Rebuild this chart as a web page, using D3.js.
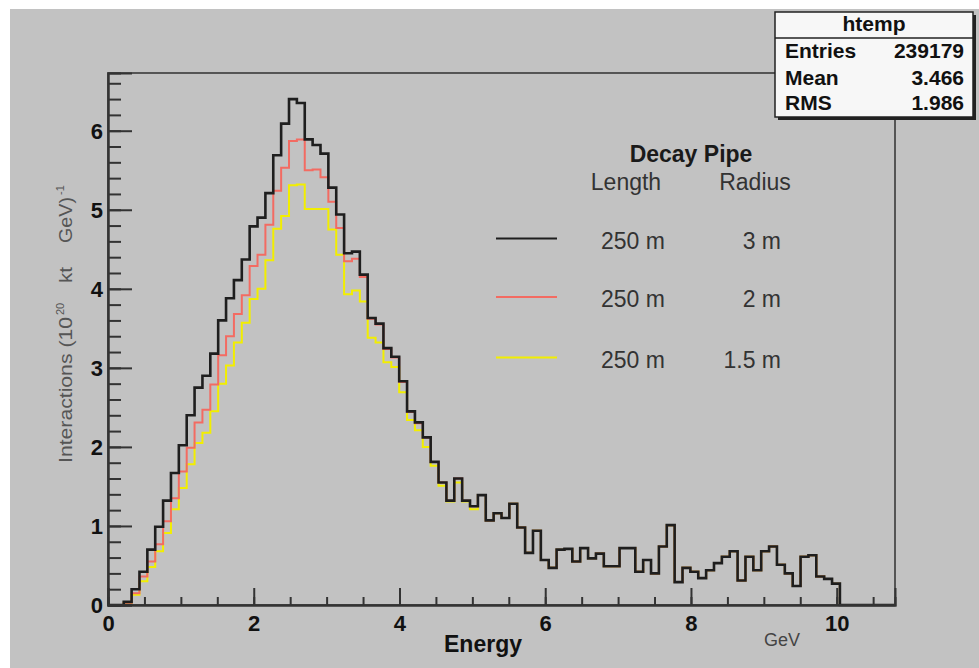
<!DOCTYPE html>
<html><head><meta charset="utf-8">
<script src="https://cdn.jsdelivr.net/npm/d3@7"></script>
<style>
html,body{margin:0;padding:0;background:#fff;}
svg{display:block;font-family:"Liberation Sans",Arial,sans-serif;}
</style></head>
<body><svg id="c" width="979" height="668"></svg>
<script>
// Histogram binning (100 bins, 0 .. 10.8 GeV)
const binCount = 100;
const xMin = 0, xMax = 10.8;
const yMax = 6.73;

// Series values per bin (10^20 kt GeV)^-1
const radius3m = [
 0,0,0.04,0.20,0.42,0.70,0.99,1.32,1.67,2.02,
 2.40,2.75,2.90,3.18,3.60,3.88,4.11,4.37,4.79,4.90,
 5.21,5.69,6.09,6.40,6.35,5.89,5.82,5.71,5.28,4.94,
 4.45,4.47,4.18,3.63,3.56,3.25,3.14,2.83,2.45,2.31,
 2.12,1.81,1.55,1.32,1.60,1.32,1.25,1.39,1.07,1.16,
 1.10,1.28,0.98,0.66,0.94,0.57,0.47,0.70,0.71,0.55,
 0.72,0.59,0.65,0.49,0.49,0.72,0.72,0.42,0.57,0.40,
 0.74,1.01,0.29,0.47,0.42,0.34,0.44,0.53,0.61,0.68,
 0.31,0.61,0.44,0.68,0.74,0.51,0.40,0.24,0.61,0.63,
 0.36,0.33,0.27,0,0,0,0,0,0,0];
const radius2m = [
 0,0,0.03,0.15,0.36,0.55,0.77,1.06,1.35,1.69,
 1.99,2.31,2.47,2.79,3.16,3.40,3.68,3.92,4.29,4.43,
 4.81,5.24,5.53,5.87,5.89,5.50,5.51,5.41,5.10,4.77,
 4.35,4.38,4.15,3.62,3.55,3.24,3.13,2.82,2.44,2.30,
 2.12,1.81,1.55,1.32,1.60,1.32,1.25,1.39,1.07,1.16,
 1.10,1.28,0.98,0.66,0.94,0.57,0.47,0.70,0.71,0.55,
 0.72,0.59,0.65,0.49,0.49,0.72,0.72,0.42,0.57,0.40,
 0.74,1.01,0.29,0.47,0.42,0.34,0.44,0.53,0.61,0.68,
 0.31,0.61,0.44,0.68,0.74,0.51,0.40,0.24,0.61,0.63,
 0.36,0.33,0.27,0,0,0,0,0,0,0];
const radius15m = [
 0,0,0.03,0.13,0.30,0.48,0.68,0.91,1.21,1.48,
 1.78,2.05,2.18,2.45,2.80,3.03,3.32,3.57,3.87,4.00,
 4.36,4.76,4.92,5.31,5.32,5.01,5.01,5.01,4.75,4.43,
 3.93,3.98,3.84,3.38,3.32,3.07,3.01,2.69,2.34,2.21,
 2.00,1.76,1.51,1.31,1.55,1.31,1.21,1.39,1.07,1.16,
 1.10,1.28,0.98,0.66,0.94,0.57,0.47,0.70,0.71,0.55,
 0.72,0.59,0.65,0.49,0.49,0.72,0.72,0.42,0.57,0.40,
 0.74,1.01,0.29,0.47,0.42,0.34,0.44,0.53,0.61,0.68,
 0.31,0.61,0.44,0.68,0.74,0.51,0.40,0.24,0.61,0.63,
 0.36,0.33,0.27,0,0,0,0,0,0,0];

const xTickValues = [0,2,4,6,8,10];
const yTickValues = [0,1,2,3,4,5,6];
const legendLengths = ["250 m","250 m","250 m"];
const legendRadii = ["3 m","2 m","1.5 m"];
const seriesColors = ["#1e1e1e","#f36b62","#f2ee00"];
const statsLabels = ["Entries","Mean","RMS"];
const statsValues = ["239179","3.466","1.986"];

const svg = d3.select("#c");
// canvas
svg.append("rect").attr("x",10).attr("y",9).attr("width",969).attr("height",659).attr("fill","#c2c2c2");

const L=108, R=895, T=73, B=605;
const x = d3.scaleLinear().domain([xMin,xMax]).range([L,R]);
const y = d3.scaleLinear().domain([0,yMax]).range([B,T]);
const bw = (xMax-xMin)/binCount;

function stepPoints(vals){
  const pts = vals.map((v,i)=>[xMin+i*bw, v]);
  pts.push([xMin+binCount*bw, 0]);
  return pts;
}
const line = d3.line().x(d=>x(d[0])).y(d=>y(d[1])).curve(d3.curveStepAfter);

const hg = svg.append("g");
[[radius15m,2,2.0],[radius2m,1,2.0],[radius3m,0,2.6]].forEach(([vals,ci,w])=>{
  hg.append("path").attr("d",line(stepPoints(vals))).attr("fill","none")
    .attr("stroke",seriesColors[ci]).attr("stroke-width",w).attr("stroke-linejoin","miter");
});

// frame
svg.append("rect").attr("x",L).attr("y",T).attr("width",R-L).attr("height",B-T)
  .attr("fill","none").attr("stroke","#3a3a3a").attr("stroke-width",1.6);

// axes
const yMinor = svg.append("g").attr("transform",`translate(${L},0)`)
  .call(d3.axisLeft(y).tickValues(d3.range(0,6.61,0.2)).tickSize(-13).tickFormat(""));
const yMajor = svg.append("g").attr("transform",`translate(${L},0)`)
  .call(d3.axisLeft(y).tickValues(yTickValues).tickSize(-24).tickPadding(5).tickFormat(d3.format("d")));
const xMinor = svg.append("g").attr("transform",`translate(0,${B})`)
  .call(d3.axisBottom(x).tickValues(d3.range(0,10.51,0.5)).tickSize(-8).tickFormat(""));
const xMajor = svg.append("g").attr("transform",`translate(0,${B})`)
  .call(d3.axisBottom(x).tickValues(xTickValues).tickSize(-17).tickPadding(10).tickFormat(d3.format("d")));
[yMinor,yMajor,xMinor,xMajor].forEach(g=>{
  g.select(".domain").attr("stroke","#333").attr("stroke-width",2);
  g.selectAll(".tick line").attr("stroke","#333").attr("stroke-width",2);
  g.selectAll(".tick text").attr("font-family","Liberation Sans, Arial, sans-serif")
    .attr("font-size",22).attr("font-weight","bold").attr("fill","#111");
});
yMajor.selectAll(".tick text").attr("dy","0.36em");

// axis titles
svg.append("text").attr("x",483).attr("y",652).attr("text-anchor","middle")
  .attr("font-size",23).attr("font-weight","bold").attr("fill","#111").text("Energy");
svg.append("text").attr("x",782).attr("y",646).attr("text-anchor","middle")
  .attr("font-size",18).attr("fill","#444").text("GeV");

const yt = svg.append("g").attr("transform","translate(72,0) rotate(-90)")
  .attr("fill","#555").attr("font-size",19);
yt.append("text").attr("x",-463).attr("y",0).attr("textLength",146).attr("lengthAdjust","spacingAndGlyphs").text("Interactions (10");
yt.append("text").attr("x",-315).attr("y",-8).attr("font-size",11).text("20");
yt.append("text").attr("x",-283).attr("y",0).attr("textLength",16).attr("lengthAdjust","spacingAndGlyphs").text("kt");
yt.append("text").attr("x",-243).attr("y",0).attr("textLength",46).attr("lengthAdjust","spacingAndGlyphs").text("GeV)");
yt.append("text").attr("x",-195).attr("y",-8).attr("font-size",11).text("-1");

// legend
svg.append("text").attr("x",691).attr("y",162).attr("text-anchor","middle")
  .attr("font-size",23).attr("font-weight","bold").attr("fill","#1a1a1a").text("Decay Pipe");
svg.append("text").attr("x",626).attr("y",190).attr("text-anchor","middle")
  .attr("font-size",23).attr("fill","#333").text("Length");
svg.append("text").attr("x",755).attr("y",190).attr("text-anchor","middle")
  .attr("font-size",23).attr("fill","#333").text("Radius");
const rowY = [238.5, 297, 357.5];
legendLengths.forEach((t,i)=>{
  svg.append("line").attr("x1",496).attr("x2",557).attr("y1",rowY[i]).attr("y2",rowY[i])
    .attr("stroke",seriesColors[i]).attr("stroke-width",2);
  svg.append("text").attr("x",633).attr("y",rowY[i]+10).attr("text-anchor","middle")
    .attr("font-size",23).attr("fill","#333").text(t);
  svg.append("text").attr("x",781).attr("y",rowY[i]+10).attr("text-anchor","end")
    .attr("font-size",23).attr("fill","#333").text(legendRadii[i]);
});

// stats box
svg.append("rect").attr("x",778).attr("y",15).attr("width",198).attr("height",105).attr("fill","#222");
svg.append("rect").attr("x",775).attr("y",12).attr("width",198).attr("height",105)
  .attr("fill","#f7f7f7").attr("stroke","#222").attr("stroke-width",1.5);
svg.append("line").attr("x1",775).attr("x2",973).attr("y1",38).attr("y2",38).attr("stroke","#222").attr("stroke-width",1.5);
svg.append("text").attr("x",874).attr("y",31).attr("text-anchor","middle")
  .attr("font-size",21).attr("font-weight","bold").attr("fill","#111").text("htemp");
const sy = [58, 85, 110];
statsLabels.forEach((t,i)=>{
  svg.append("text").attr("x",785).attr("y",sy[i]).attr("font-size",21).attr("font-weight","bold").attr("fill","#111").text(t);
  svg.append("text").attr("x",964).attr("y",sy[i]).attr("text-anchor","end").attr("font-size",21).attr("font-weight","bold").attr("fill","#111").text(statsValues[i]);
});
</script></body></html>
